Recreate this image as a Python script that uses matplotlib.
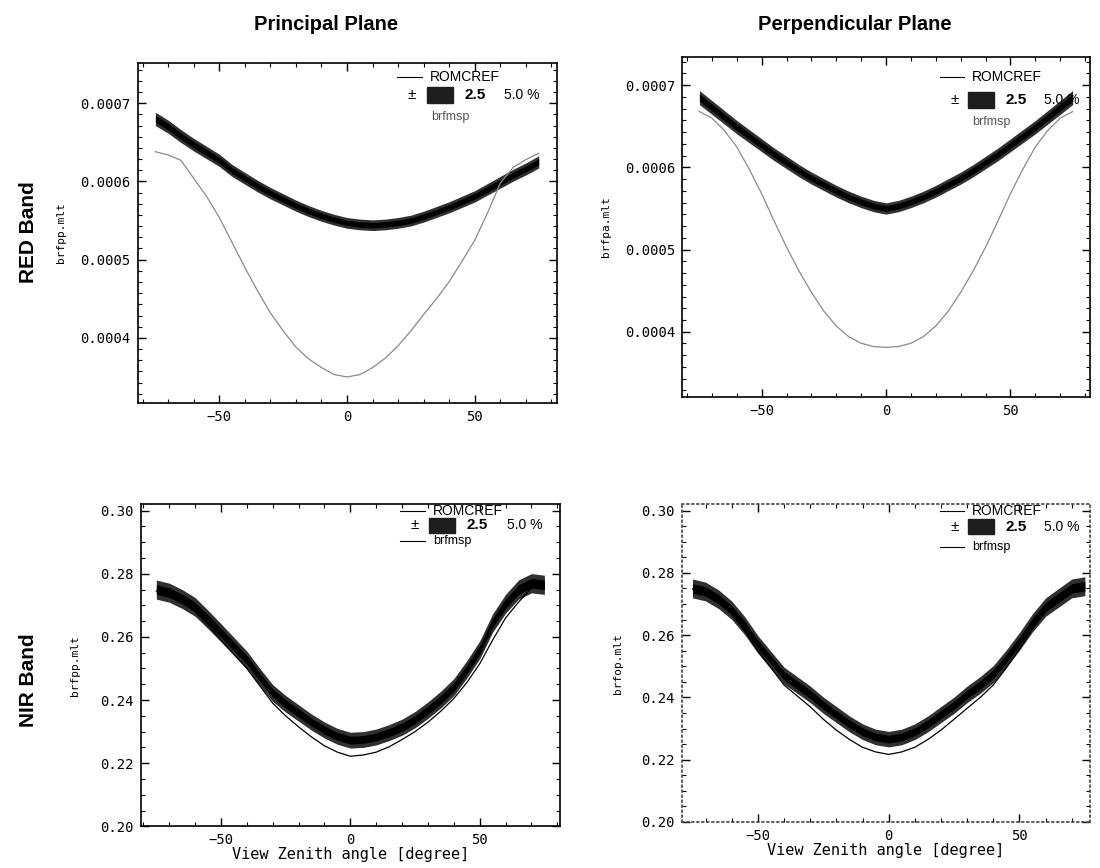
import matplotlib
matplotlib.use('Agg')
import matplotlib.pyplot as plt
from matplotlib.ticker import MultipleLocator, AutoMinorLocator, FormatStrFormatter
from matplotlib.patches import Rectangle
import numpy as np

# View zenith angles (degrees)
vza = [-75, -70, -65, -60, -55, -50, -45, -40, -35, -30, -25, -20, -15, -10, -5, 0,
       5, 10, 15, 20, 25, 30, 35, 40, 45, 50, 55, 60, 65, 70, 75]

# RED band, principal plane
red_pp_ref = [0.000680, 0.000670, 0.000658, 0.000647, 0.000637, 0.000627, 0.000614, 0.000604,
              0.000594, 0.000585, 0.000577, 0.000569, 0.000562, 0.000556, 0.000551, 0.000547,
              0.000545, 0.000544, 0.000545, 0.000547, 0.000550, 0.000555, 0.000561, 0.000567,
              0.000574, 0.000581, 0.000590, 0.000599, 0.000608, 0.000616, 0.000625]
red_pp_msp = [0.000638, 0.000634, 0.000627, 0.000604, 0.000581, 0.000554, 0.000522, 0.000490,
              0.000460, 0.000432, 0.000409, 0.000388, 0.000373, 0.000362, 0.000353, 0.000350,
              0.000353, 0.000362, 0.000374, 0.000390, 0.000409, 0.000430, 0.000450, 0.000472,
              0.000498, 0.000525, 0.000560, 0.000598, 0.000618, 0.000628, 0.000636]

# RED band, perpendicular plane
red_op_ref = [0.000685, 0.000673, 0.000661, 0.000649, 0.000638, 0.000627, 0.000616, 0.000606,
              0.000596, 0.000587, 0.000579, 0.000571, 0.000564, 0.000558, 0.000553, 0.000550,
              0.000553, 0.000558, 0.000564, 0.000571, 0.000579, 0.000587, 0.000596, 0.000606,
              0.000616, 0.000627, 0.000638, 0.000649, 0.000661, 0.000673, 0.000685]
red_op_msp = [0.000668, 0.000660, 0.000645, 0.000625, 0.000598, 0.000568, 0.000535, 0.000503,
              0.000474, 0.000448, 0.000425, 0.000407, 0.000394, 0.000386, 0.000382, 0.000381,
              0.000382, 0.000386, 0.000394, 0.000407, 0.000425, 0.000448, 0.000474, 0.000503,
              0.000535, 0.000568, 0.000598, 0.000625, 0.000645, 0.000660, 0.000668]

# NIR band, principal plane
nir_pp_ref = [0.2750, 0.2740, 0.2720, 0.2695, 0.2655, 0.2613, 0.2570, 0.2527, 0.2473, 0.2422,
              0.2388, 0.2359, 0.2330, 0.2305, 0.2285, 0.2273, 0.2275, 0.2283, 0.2297, 0.2314,
              0.2338, 0.2368, 0.2402, 0.2441, 0.2497, 0.2559, 0.2644, 0.2705, 0.2750, 0.2770,
              0.2765]
nir_pp_msp = [0.2745, 0.2735, 0.2712, 0.2680, 0.2638, 0.2590, 0.2545, 0.2500, 0.2445, 0.2390,
              0.2350, 0.2315, 0.2283, 0.2255, 0.2235, 0.2222, 0.2226, 0.2235, 0.2252, 0.2275,
              0.2300, 0.2330, 0.2365, 0.2405, 0.2455, 0.2515, 0.2590, 0.2660, 0.2710, 0.2755,
              0.2760]

# NIR band, perpendicular plane
nir_op_ref = [0.2750, 0.2740, 0.2715, 0.2680, 0.2630, 0.2570, 0.2520, 0.2470, 0.2440, 0.2410,
              0.2375, 0.2345, 0.2315, 0.2290, 0.2273, 0.2266, 0.2273, 0.2290, 0.2315, 0.2345,
              0.2375, 0.2410, 0.2440, 0.2475, 0.2525, 0.2580, 0.2640, 0.2690, 0.2720, 0.2750,
              0.2757]
nir_op_msp = [0.2748, 0.2735, 0.2708, 0.2668, 0.2612, 0.2550, 0.2495, 0.2440, 0.2405, 0.2370,
              0.2330, 0.2295, 0.2265, 0.2240, 0.2225, 0.2217, 0.2225, 0.2240, 0.2265, 0.2295,
              0.2330, 0.2365, 0.2400, 0.2440, 0.2495, 0.2555, 0.2620, 0.2675, 0.2710, 0.2755,
              0.2752]

# relative half-width of the drawn ROMCREF envelope
band_frac = {'RED': 0.0125, 'NIR': 0.011}
pct_labels = ['2.5', '5.0 %']
mono = ['DejaVu Sans Mono']


# legend drawn by hand, IDL style (x0 = start of line sample, y rows in axes coords)
def draw_legend(ax, x0, rows, msp_color, show_msp_line):
    tr = ax.transAxes
    y1, y2, y3 = rows
    ax.plot([x0, x0 + 0.06], [y1, y1], transform=tr, color='black', lw=0.8)
    ax.text(x0 + 0.078, y1, 'ROMCREF', transform=tr, fontsize=10, va='center')
    ax.text(x0 + 0.035, y2, '\u00b1', transform=tr, fontsize=11, va='center', ha='center')
    ax.add_patch(Rectangle((x0 + 0.07, y2 - 0.024), 0.062, 0.048, transform=tr, color='#1e1e1e'))
    ax.text(x0 + 0.16, y2, pct_labels[0], transform=tr, fontsize=11, va='center', fontweight='bold')
    ax.text(x0 + 0.255, y2, pct_labels[1], transform=tr, fontsize=10, va='center')
    if show_msp_line:
        ax.plot([x0, x0 + 0.06], [y3, y3], transform=tr, color=msp_color, lw=0.8)
    ax.text(x0 + 0.08, y3, 'brfmsp', transform=tr, fontsize=9, va='center',
            color='#555555' if not show_msp_line else 'black')


def draw_panel(ax, ref, msp, band, msp_color, ylim, ymajor, yminor, yfmt, ylabel, xlim, lab_x):
    ref = np.array(ref)
    w = band_frac[band]
    ax.fill_between(vza, ref * (1 - w), ref * (1 + w), color='#303030', lw=0)
    ax.fill_between(vza, ref * (1 - w / 2), ref * (1 + w / 2), color='black', lw=0)
    ax.plot(vza, msp, color=msp_color, lw=0.9)
    ax.set_xlim(*xlim)
    ax.set_ylim(*ylim)
    ax.xaxis.set_major_locator(MultipleLocator(50))
    ax.xaxis.set_minor_locator(MultipleLocator(10))
    ax.yaxis.set_major_locator(MultipleLocator(ymajor))
    ax.yaxis.set_minor_locator(AutoMinorLocator(yminor))
    ax.yaxis.set_major_formatter(FormatStrFormatter(yfmt))
    ax.tick_params(which='both', direction='in', top=True, right=True, labelsize=10)
    ax.tick_params(which='major', length=6, width=1, pad=5)
    ax.tick_params(which='minor', length=3, width=0.8)
    for lab in ax.get_xticklabels() + ax.get_yticklabels():
        lab.set_family(mono)
    ax.set_ylabel(ylabel, fontsize=8, family=mono)
    ax.yaxis.set_label_coords(lab_x, 0.5)
    for s in ax.spines.values():
        s.set_linewidth(1.2)


fig = plt.figure(figsize=(11, 8.68), dpi=100)
plt.rcParams['font.family'] = ['Liberation Sans', 'DejaVu Sans']

ax1 = fig.add_axes([0.125, 0.536, 0.381, 0.391])
ax2 = fig.add_axes([0.620, 0.543, 0.371, 0.391])
ax3 = fig.add_axes([0.128, 0.048, 0.381, 0.371])
ax4 = fig.add_axes([0.620, 0.053, 0.371, 0.366])

draw_panel(ax1, red_pp_ref, red_pp_msp, 'RED', '#8a8a8a', (0.000317, 0.000751), 0.0001, 7,
           '%.4f', 'brfpp.mlt', (-82, 82), -0.17)
draw_panel(ax2, red_op_ref, red_op_msp, 'RED', '#8a8a8a', (0.000321, 0.000734), 0.0001, 7,
           '%.4f', 'brfpa.mlt', (-82, 82), -0.175)
draw_panel(ax3, nir_pp_ref, nir_pp_msp, 'NIR', 'black', (0.20, 0.302), 0.02, 4,
           '%.2f', 'brfpp.mlt', (-81, 81), -0.145)
draw_panel(ax4, nir_op_ref, nir_op_msp, 'NIR', 'black', (0.20, 0.302), 0.02, 4,
           '%.2f', 'brfop.mlt', (-79, 77), -0.145)

draw_legend(ax1, 0.62, (0.959, 0.906, 0.841), '#8a8a8a', False)
draw_legend(ax2, 0.632, (0.941, 0.874, 0.809), '#8a8a8a', False)
draw_legend(ax3, 0.618, (0.98, 0.935, 0.885), 'black', True)
draw_legend(ax4, 0.632, (0.98, 0.93, 0.867), 'black', True)

# scanned-looking dotted frame on the last panel
for s in ax4.spines.values():
    s.set_linestyle((0, (1, 2)))
    s.set_color('#444444')

for ax in (ax3, ax4):
    ax.set_xlabel('View Zenith angle [degree]', fontsize=11, family=mono, labelpad=0)

fig.text(0.296, 0.972, 'Principal Plane', fontsize=14.5, fontweight='bold', ha='center', va='center')
fig.text(0.777, 0.972, 'Perpendicular Plane', fontsize=14.5, fontweight='bold', ha='center', va='center')
fig.text(0.026, 0.733, 'RED Band', fontsize=15, fontweight='bold', rotation=90, ha='center', va='center')
fig.text(0.026, 0.216, 'NIR Band', fontsize=15, fontweight='bold', rotation=90, ha='center', va='center')

fig.savefig('out.png', dpi=100, facecolor='white')
